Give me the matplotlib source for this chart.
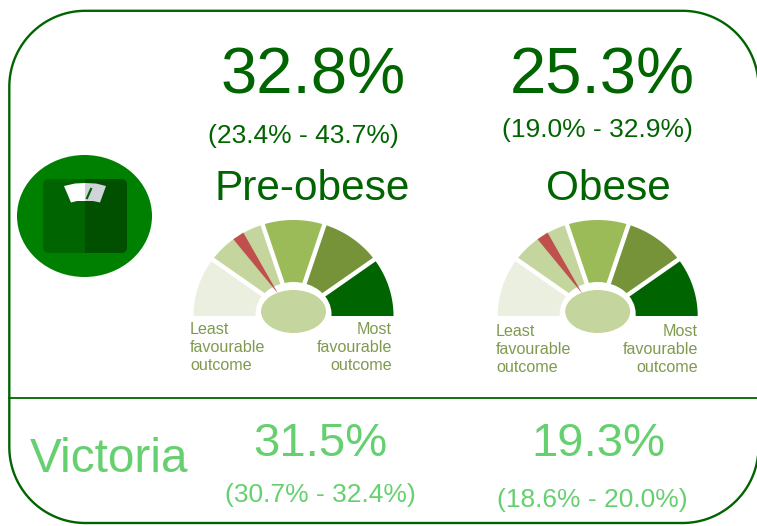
import numpy as np
import matplotlib
matplotlib.use("Agg")
import matplotlib.pyplot as plt
from matplotlib.patches import Ellipse, FancyBboxPatch, Polygon, Rectangle

plt.rcParams['font.family'] = ['Liberation Sans', 'DejaVu Sans']

DARK = '#006400'
LIGHT = '#66d070'
LABEL = '#7f9a4f'

categories = ['Pre-obese', 'Obese']
main_values = ['32.8%', '25.3%']
main_ranges = ['(23.4% - 43.7%)', '(19.0% - 32.9%)']
vic_name = 'Victoria'
vic_values = ['31.5%', '19.3%']
vic_ranges = ['(30.7% - 32.4%)', '(18.6% - 20.0%)']
segment_sizes = [1, 1, 1, 1, 1]
segment_colors = ['#ebefe0', '#c4d69d', '#9bbb59', '#779339', DARK]
needle_share = [0.314, 0.314]

fig = plt.figure(figsize=(7.57, 5.26), dpi=100)
ax = fig.add_axes([0, 0, 1, 1])
ax.set_xlim(0, 757)
ax.set_ylim(526, 0)
ax.axis('off')


def rim(cx, cy, rx, ry, share):
    a = np.pi * (1 - share)
    return cx + rx * np.cos(a), cy - ry * np.sin(a)


def gauge(cx, cy, share):
    rx, ry = 100, 96
    edges = np.cumsum([0] + segment_sizes) / sum(segment_sizes)
    for i, col in enumerate(segment_colors):
        t = np.linspace(edges[i], edges[i + 1], 40)
        pts = [(cx, cy)] + [rim(cx, cy, rx, ry, s) for s in t]
        ax.add_patch(Polygon(pts, closed=True, fc=col, ec='none', zorder=2))
    for e in edges[1:-1]:
        x, y = rim(cx, cy, rx + 4, ry + 4, e)
        ax.plot([cx, x], [cy, y], color='white', lw=3.2, zorder=3)
    # white gap round the hub, then needle and hub
    ax.add_patch(Ellipse((cx, cy - 2), 76, 64, fc='white', ec='none', zorder=4))
    tip = rim(cx, cy, 100, 96, share)
    a = np.pi * (1 - share)
    nx, ny = np.sin(a) * 6, np.cos(a) * 6
    base = (cx + (tip[0] - cx) * 0.28, cy + (tip[1] - cy) * 0.28)
    ax.add_patch(Polygon([(tip[0] - nx, tip[1] - ny), (tip[0] + nx, tip[1] + ny), base],
                         closed=True, fc='#c0504d', ec='none', zorder=5))
    ax.add_patch(Ellipse((cx, cy - 4.5), 65, 43, fc='#c4d69d', ec='none', zorder=6))


def frame(left, right, top, bottom, r):
    # true circular corners, FancyBboxPatch rounds too squarely
    corners = [(right - r, top + r, -90, 0), (right - r, bottom - r, 0, 90),
               (left + r, bottom - r, 90, 180), (left + r, top + r, 180, 270)]
    xs, ys = [], []
    for cx, cy, a0, a1 in corners:
        t = np.radians(np.linspace(a0, a1, 40))
        xs.extend(cx + r * np.cos(t))
        ys.extend(cy + r * np.sin(t))
    ax.add_patch(Polygon(np.column_stack([xs, ys]), closed=True, fc='none', ec=DARK, lw=1.7, zorder=1))


frame(9.3, 758.5, 10.8, 523, 76)
ax.plot([9, 757], [397.8, 397.8], color=DARK, lw=1.3, zorder=1)

# scale icon
ax.add_patch(Ellipse((84.5, 216), 135, 122, fc='#008000', ec='none', zorder=2))
body = FancyBboxPatch((49, 185), 72, 62, boxstyle='round,pad=6,rounding_size=6',
                      fc='#006400', ec='none', zorder=3)
ax.add_patch(body)
shade = Rectangle((85, 175), 45, 82, fc='#005000', ec='none', zorder=3)
ax.add_patch(shade)
shade.set_clip_path(body)
ax.add_patch(Polygon([(64, 186), (75, 183.5), (85, 183), (85, 201), (77, 201), (71, 202.5)],
                     closed=True, fc='white', ec='none', zorder=4))
ax.add_patch(Polygon([(85, 183), (96, 183.5), (106, 186), (100, 202.5), (93, 201), (85, 201)],
                     closed=True, fc='#d0d4da', ec='none', zorder=4))
ax.plot([87, 91], [198, 189], color='#006400', lw=1.6, zorder=5)

# columns
main_x = [313.5, 602.5]
range_x = [303, 597.5]
range_y = [136, 130]
head_x = [312.5, 608]
gauge_x = [293.5, 597.7]
least_y = [329, 331]
left_x = [190, 496]
right_x = [392, 698]
vic_x = [320, 598]
vic_range_x = [320, 592]
vic_range_y = [495, 500]

for i, name in enumerate(categories):
    ax.text(main_x[i], 76, main_values[i], color=DARK, fontsize=47, ha='center', va='center')
    ax.text(range_x[i], range_y[i], main_ranges[i], color=DARK, fontsize=19, ha='center', va='center')
    ax.text(head_x[i], 189, name, color=DARK, fontsize=30.5, ha='center', va='center')
    gauge(gauge_x[i], 316, needle_share[i])
    for j, word in enumerate(['Least', 'favourable', 'outcome']):
        ax.text(left_x[i], least_y[i] + j * 18.5, word, color=LABEL, fontsize=11.6, ha='left', va='center')
    for j, word in enumerate(['Most', 'favourable', 'outcome']):
        ax.text(right_x[i], least_y[i] + j * 18.5, word, color=LABEL, fontsize=11.6, ha='right', va='center')
    ax.text(vic_x[i], 444, vic_values[i], color=LIGHT, fontsize=34, ha='center', va='center')
    ax.text(vic_range_x[i], vic_range_y[i], vic_ranges[i], color=LIGHT, fontsize=19, ha='center', va='center')

ax.text(109.5, 460, vic_name, color=LIGHT, fontsize=34.4, ha='center', va='center')

fig.savefig('out.png', dpi=100)
